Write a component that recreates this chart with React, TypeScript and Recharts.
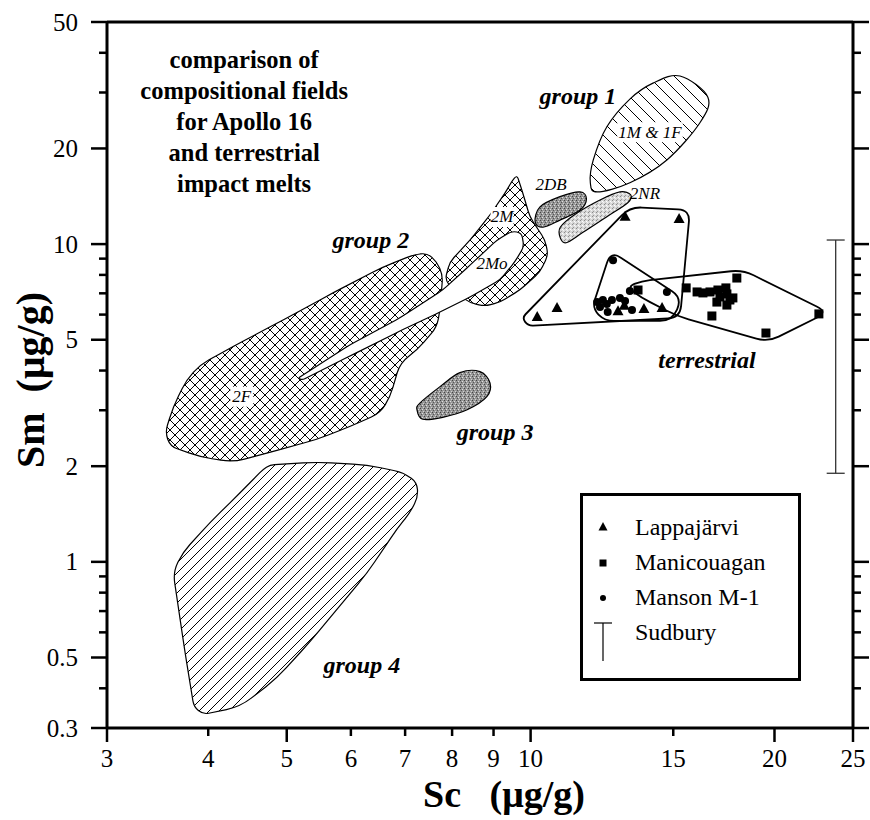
import React from "react";
import { ScatterChart, Scatter, XAxis, YAxis, ReferenceLine, ReferenceDot, Legend, Label } from "recharts";

const SERIF = '"Liberation Serif", "Times New Roman", Times, serif';

// axis ticks (log scales)
const X_TICKS = [3, 4, 5, 6, 7, 8, 9, 10, 15, 20, 25];
const X_LONG = [3, 5, 10, 20, 25];
const Y_TICKS = [0.3, 0.4, 0.5, 0.6, 0.7, 0.8, 0.9, 1, 2, 3, 4, 5, 6, 7, 8, 9, 10, 20, 30, 40, 50];
const Y_LABELS = [0.3, 0.5, 1, 2, 5, 10, 20, 50];

// Apollo 16 melt-group fields, [Sc, Sm] in µg/g
const GROUP_1 = [[15.29, 33.8], [16.55, 29.0], [16.18, 24.1], [14.73, 18.4], [13.26, 15.6], [12.08, 14.6], [11.85, 15.6], [11.95, 18.4], [12.42, 23.4], [13.26, 28.6], [14.16, 32.1]];
const FIELD_2DB = [[10.13, 11.74], [10.27, 13.1], [10.87, 14.1], [11.51, 14.6], [11.72, 13.9], [11.51, 12.8], [10.87, 11.9], [10.36, 11.3]];
const FIELD_2NR = [[10.88, 10.46], [10.88, 11.3], [11.34, 12.4], [12.18, 13.77], [12.89, 14.6], [13.29, 14.3], [13.18, 13.5], [12.42, 12.2], [11.58, 10.85], [11.06, 10.1]];
const FIELD_2F = [[7.45, 9.38], [7.66, 8.79], [7.79, 7.99], [7.73, 6.2], [7.66, 5.48], [7.24, 4.64], [6.9, 4.23], [6.71, 3.31], [6.52, 2.94], [5.99, 2.67], [5.45, 2.43], [4.73, 2.2], [4.29, 2.06], [3.91, 2.14], [3.59, 2.31], [3.54, 2.56], [3.62, 3.07], [3.76, 3.74], [3.91, 4.17], [4.29, 4.76], [4.95, 5.77], [5.7, 7.02], [6.57, 8.47], [7.16, 9.24]];
const FIELD_2M = [[9.62, 16.5], [9.78, 14.48], [9.98, 12.17], [10.42, 10.3], [10.51, 9.24], [10.27, 8.17], [9.7, 7.17], [9.17, 6.57], [8.78, 6.38], [8.42, 6.53], [8.07, 7.07], [7.84, 7.72], [7.95, 8.79], [8.42, 10.3], [8.91, 12.35], [9.3, 14.48], [9.48, 15.75]];
const FIELD_2MO = [[5.16, 3.78], [5.99, 4.83], [6.9, 5.86], [7.79, 7.17], [8.42, 8.59], [9.09, 10.3], [9.48, 10.99], [9.75, 10.84], [9.81, 9.8], [9.56, 8.79], [9.17, 7.72], [8.42, 6.82], [7.73, 6.11], [6.9, 5.33], [5.99, 4.45], [5.23, 3.74]];
const GROUP_3 = [[7.24, 3.01], [7.3, 3.16], [7.73, 3.56], [8.18, 3.94], [8.66, 3.97], [8.91, 3.66], [8.83, 3.31], [8.35, 3.01], [7.79, 2.85], [7.36, 2.81]];
const GROUP_4 = [[4.77, 2.02], [5.45, 2.06], [6.28, 2.02], [6.96, 1.91], [7.24, 1.78], [7.26, 1.6], [7.1, 1.43], [6.84, 1.27], [6.28, 0.92], [5.77, 0.71], [5.34, 0.56], [4.86, 0.43], [4.38, 0.35], [3.94, 0.331], [3.84, 0.35], [3.74, 0.53], [3.62, 0.93], [3.72, 1.07], [4.02, 1.33], [4.38, 1.65], [4.67, 1.95]];

// terrestrial impact-melt envelopes
const LAPPA_FIELD = [[9.76, 5.86], [13.26, 13.09], [15.73, 12.81], [15.29, 5.86], [9.93, 5.53]];
const MANSON_FIELD = [[12.56, 9.51], [11.91, 6.29], [12.35, 5.73], [14.95, 5.73], [15.38, 6.77]];
const MANIC_FIELD = [[13.15, 7.33], [13.72, 7.66], [18.28, 8.29], [23.28, 6.11], [19.63, 4.92], [15.16, 5.94], [13.72, 6.77]];

// analyses
const LAPPAJARVI = [[13.08, 12.2], [15.25, 12.0], [10.19, 5.9], [10.78, 6.29], [12.82, 6.15], [13.05, 6.4], [13.8, 6.25], [14.53, 6.29]];
const MANICOUAGAN = [[13.57, 7.17], [15.56, 7.28], [16.05, 7.07], [16.32, 7.02], [16.65, 7.07], [17.03, 7.17], [17.42, 7.28], [17.47, 6.97], [17.13, 6.82], [16.98, 6.57], [17.47, 6.43], [17.77, 6.77], [17.97, 7.82], [16.74, 5.94], [19.52, 5.25], [22.69, 6.03], [17.62, 6.67]];
const MANSON = [[12.64, 8.9], [14.73, 7.07], [12.08, 6.57], [12.28, 6.67], [12.42, 6.48], [12.18, 6.34], [12.6, 6.67], [12.89, 6.77], [13.08, 6.62], [13.26, 7.12], [13.34, 6.2], [12.45, 6.11]];
const SUDBURY = [[23.8, 1.9], [23.8, 10.3]];

const TITLE_LINES = ["comparison of", "compositional fields", "for Apollo 16", "and terrestrial", "impact melts"];
const GROUP_NAMES = [
  { text: "group 1", x: 11.44, y: 29.3 },
  { text: "group 2", x: 6.35, y: 10.3 },
  { text: "group 3", x: 9.04, y: 2.56 },
  { text: "group 4", x: 6.19, y: 0.474 },
  { text: "terrestrial", x: 16.51, y: 4.32 },
];
const FIELD_NAMES = [
  { text: "1M & 1F", x: 14.04, y: 22.5, bg: true },
  { text: "2DB", x: 10.6, y: 15.35, bg: false },
  { text: "2NR", x: 13.84, y: 14.48, bg: false },
  { text: "2M", x: 9.22, y: 12.17, bg: true },
  { text: "2Mo", x: 8.96, y: 8.71, bg: false },
  { text: "2F", x: 4.4, y: 3.31, bg: true },
];
const LEGEND_ITEMS = ["Lappajärvi", "Manicouagan", "Manson M-1", "Sudbury"];

const toXY = (arr: number[][]) => arr.map(([x, y]) => ({ x, y }));

type Pt = { x: number; y: number };

// closed Catmull-Rom curve through the vertices
function splinePath(pts: Pt[]) {
  const n = pts.length;
  if (n < 3) return "";
  let d = `M${pts[0].x},${pts[0].y}`;
  for (let i = 0; i < n; i++) {
    const p0 = pts[(i - 1 + n) % n];
    const p1 = pts[i];
    const p2 = pts[(i + 1) % n];
    const p3 = pts[(i + 2) % n];
    const c1x = p1.x + (p2.x - p0.x) / 6;
    const c1y = p1.y + (p2.y - p0.y) / 6;
    const c2x = p2.x - (p3.x - p1.x) / 6;
    const c2y = p2.y - (p3.y - p1.y) / 6;
    d += `C${c1x},${c1y} ${c2x},${c2y} ${p2.x},${p2.y}`;
  }
  return d + "Z";
}

// polygon with rounded corners of radius r
function roundedPath(pts: Pt[], r: number) {
  const n = pts.length;
  if (n < 3) return "";
  let d = "";
  for (let i = 0; i < n; i++) {
    const p0 = pts[(i - 1 + n) % n];
    const p1 = pts[i];
    const p2 = pts[(i + 1) % n];
    const l1 = Math.hypot(p0.x - p1.x, p0.y - p1.y) || 1;
    const l2 = Math.hypot(p2.x - p1.x, p2.y - p1.y) || 1;
    const rr = Math.min(r, l1 / 2, l2 / 2);
    const ax = p1.x + ((p0.x - p1.x) / l1) * rr;
    const ay = p1.y + ((p0.y - p1.y) / l1) * rr;
    const bx = p1.x + ((p2.x - p1.x) / l2) * rr;
    const by = p1.y + ((p2.y - p1.y) / l2) * rr;
    d += `${i === 0 ? "M" : "L"}${ax},${ay}Q${p1.x},${p1.y} ${bx},${by}`;
  }
  return d + "Z";
}

const field = (fill: string, r: number | "spline", strokeWidth = 1.2) => (props: any) => {
  const pts: Pt[] = (props.points || []).filter((p: any) => p.x != null && p.y != null);
  const d = r === "spline" ? splinePath(pts) : roundedPath(pts, r);
  return <path d={d} fill={fill} stroke="#000" strokeWidth={strokeWidth} strokeLinejoin="round" />;
};

const hidden = () => <g />;

const triangle = (p: any) => (
  <path d={`M${p.cx},${p.cy - 6}L${p.cx + 5.5},${p.cy + 4}L${p.cx - 5.5},${p.cy + 4}Z`} fill="#000" />
);
const square = (p: any) => <rect x={p.cx - 4.5} y={p.cy - 4.5} width={9} height={9} fill="#000" />;
const dot = (p: any) => <circle cx={p.cx} cy={p.cy} r={4} fill="#000" />;
const cap = (p: any) => <line x1={p.cx - 9} x2={p.cx + 9} y1={p.cy} y2={p.cy} stroke="#333" strokeWidth={1.3} />;

const LeftTick = (p: any) => {
  const v = p.payload.value;
  const major = Y_LABELS.includes(v);
  const len = major ? 16 : 8;
  return (
    <g>
      <line x1={p.x} x2={p.x - len} y1={p.y} y2={p.y} stroke="#000" strokeWidth={2.5} />
      {major && (
        <text x={p.x - len - 13} y={p.y} textAnchor="end" dominantBaseline="central" fontFamily={SERIF} fontSize={25} fill="#000">
          {v}
        </text>
      )}
    </g>
  );
};

const RightTick = (p: any) => {
  const len = Y_LABELS.includes(p.payload.value) ? 16 : 8;
  return <line x1={p.x} x2={p.x + len} y1={p.y} y2={p.y} stroke="#000" strokeWidth={2.5} />;
};

const BottomTick = (p: any) => {
  const v = p.payload.value;
  const len = X_LONG.includes(v) ? 14 : 8;
  return (
    <g>
      <line x1={p.x} x2={p.x} y1={p.y} y2={p.y + len} stroke="#000" strokeWidth={2.5} />
      <text x={p.x} y={p.y + 30} textAnchor="middle" dominantBaseline="central" fontFamily={SERIF} fontSize={25} fill="#000">
        {v}
      </text>
    </g>
  );
};

const XTitle = (props: any) => {
  const vb = props.viewBox;
  return (
    <text x={vb.x + vb.width / 2 + 24} y={vb.y + 66} textAnchor="middle" dominantBaseline="central" fontFamily={SERIF} fontSize={38} fontWeight="bold" fill="#000">
      Sc{"\u00a0\u00a0\u00a0"}(μg/g)
    </text>
  );
};

const YTitle = (props: any) => {
  const vb = props.viewBox;
  const cx = vb.x + 30;
  const cy = vb.y + vb.height / 2 + 5;
  return (
    <text x={cx} y={cy} transform={`rotate(-90, ${cx}, ${cy})`} textAnchor="middle" dominantBaseline="central" fontFamily={SERIF} fontSize={40} fontWeight="bold" fill="#000">
      Sm{"\u00a0\u00a0"}(μg/g)
    </text>
  );
};

const groupText = (text: string) => (p: any) => (
  <text x={p.cx} y={p.cy} textAnchor="middle" dominantBaseline="central" fontFamily={SERIF} fontSize={24} fontWeight="bold" fontStyle="italic" fill="#000">
    {text}
  </text>
);

const fieldText = (text: string, bg: boolean) => (p: any) => {
  const w = text.length * 8.5 + 6;
  return (
    <g>
      {bg && <rect x={p.cx - w / 2} y={p.cy - 10} width={w} height={20} fill="#fff" />}
      <text x={p.cx} y={p.cy} textAnchor="middle" dominantBaseline="central" fontFamily={SERIF} fontSize={17} fontStyle="italic" fill="#000">
        {text}
      </text>
    </g>
  );
};

const titleText = (p: any) => (
  <text x={p.cx} y={p.cy} textAnchor="middle" fontFamily={SERIF} fontSize={24.5} fontWeight="bold" fill="#000">
    {TITLE_LINES.map((line, i) => (
      <tspan key={line} x={p.cx} dy={i === 0 ? 8 : 31}>
        {line}
      </tspan>
    ))}
  </text>
);

const LegendSymbol = ({ i }: { i: number }) => (
  <svg width={20} height={20} style={{ overflow: "visible", flex: "none" }}>
    {i === 0 && <path d="M10,4L14.5,12.5L5.5,12.5Z" fill="#000" />}
    {i === 1 && <rect x={6.5} y={6.5} width={7} height={7} fill="#000" />}
    {i === 2 && <circle cx={10} cy={10} r={3} fill="#000" />}
    {i === 3 && (
      <g stroke="#000" strokeWidth={1.2}>
        <line x1={1} x2={19} y1={0} y2={0} />
        <line x1={10} x2={10} y1={0} y2={38} />
      </g>
    )}
  </svg>
);

const LegendBox = () => (
  <div
    style={{
      width: "100%",
      height: "100%",
      boxSizing: "border-box",
      border: "3px solid #000",
      background: "#fff",
      paddingTop: 14,
      fontFamily: SERIF,
      fontSize: 24,
      color: "#000",
    }}
  >
    {LEGEND_ITEMS.map((name, i) => (
      <div key={name} style={{ height: 35, display: "flex", alignItems: "center" }}>
        <div style={{ width: 10 }} />
        <LegendSymbol i={i} />
        <div style={{ width: 22 }} />
        <span>{name}</span>
      </div>
    ))}
  </div>
);

export default function App() {
  return (
    <div style={{ position: "absolute", left: 0, top: 0, width: 870, height: 820, background: "#fff" }}>
      <svg width={0} height={0} style={{ position: "absolute" }}>
        <defs>
          <pattern id="hatchBack" patternUnits="userSpaceOnUse" width={13} height={13}>
            <path d="M0,0L13,13M-2,11L2,15M11,-2L15,2" stroke="#000" strokeWidth={1} />
          </pattern>
          <pattern id="hatchFwd" patternUnits="userSpaceOnUse" width={10} height={10}>
            <path d="M0,10L10,0M-2,2L2,-2M8,12L12,8" stroke="#000" strokeWidth={1} />
          </pattern>
          <pattern id="cross" patternUnits="userSpaceOnUse" width={10} height={10}>
            <path d="M0,0L10,10M10,0L0,10" stroke="#000" strokeWidth={1} />
          </pattern>
          <pattern id="stippleDark" patternUnits="userSpaceOnUse" width={4} height={4}>
            <rect width={4} height={4} fill="#969696" />
            <rect x={0} y={0} width={1} height={1} fill="#444" />
            <rect x={2} y={1} width={1} height={1} fill="#e0e0e0" />
            <rect x={1} y={2} width={1} height={1} fill="#555" />
            <rect x={3} y={3} width={1} height={1} fill="#d0d0d0" />
          </pattern>
          <pattern id="stippleLight" patternUnits="userSpaceOnUse" width={4} height={4}>
            <rect width={4} height={4} fill="#d8d8d8" />
            <rect x={0} y={0} width={1} height={1} fill="#8a8a8a" />
            <rect x={2} y={1} width={1} height={1} fill="#fff" />
            <rect x={1} y={3} width={1} height={1} fill="#999" />
            <rect x={3} y={2} width={1} height={1} fill="#f4f4f4" />
          </pattern>
        </defs>
      </svg>
      <ScatterChart width={870} height={820} margin={{ top: 22, right: 0, bottom: 0, left: 0 }}>
        <XAxis
          type="number"
          dataKey="x"
          scale="log"
          domain={[3, 25]}
          allowDataOverflow
          ticks={X_TICKS}
          interval={0}
          height={92}
          tickSize={0}
          tickMargin={0}
          tickLine={false}
          axisLine={{ stroke: "#000", strokeWidth: 3 }}
          tick={BottomTick}
          label={<Label content={XTitle} />}
        />
        <YAxis
          type="number"
          dataKey="y"
          scale="log"
          domain={[0.3, 50]}
          allowDataOverflow
          ticks={Y_TICKS}
          interval={0}
          width={107}
          tickSize={0}
          tickMargin={0}
          tickLine={false}
          axisLine={{ stroke: "#000", strokeWidth: 3 }}
          tick={LeftTick}
          label={<Label content={YTitle} />}
        />
        <YAxis
          yAxisId="r"
          orientation="right"
          type="number"
          dataKey="y"
          scale="log"
          domain={[0.3, 50]}
          allowDataOverflow
          ticks={Y_TICKS}
          interval={0}
          width={17}
          tickSize={0}
          tickMargin={0}
          tickLine={false}
          axisLine={{ stroke: "#000", strokeWidth: 3 }}
          tick={RightTick}
        />
        <ReferenceLine y={50} stroke="#000" strokeWidth={3} />

        <Scatter data={toXY(GROUP_4)} line={field("url(#hatchFwd)", 14)} shape={hidden} legendType="none" isAnimationActive={false} />
        <Scatter data={toXY(FIELD_2F)} line={field("url(#cross)", 12)} shape={hidden} legendType="none" isAnimationActive={false} />
        <Scatter data={toXY(FIELD_2M)} line={field("url(#cross)", 6)} shape={hidden} legendType="none" isAnimationActive={false} />
        <Scatter data={toXY(FIELD_2MO)} line={field("#fff", 5)} shape={hidden} legendType="none" isAnimationActive={false} />
        <Scatter data={toXY(GROUP_3)} line={field("url(#stippleDark)", "spline")} shape={hidden} legendType="none" isAnimationActive={false} />
        <Scatter data={toXY(FIELD_2DB)} line={field("url(#stippleDark)", "spline")} shape={hidden} legendType="none" isAnimationActive={false} />
        <Scatter data={toXY(FIELD_2NR)} line={field("url(#stippleLight)", "spline")} shape={hidden} legendType="none" isAnimationActive={false} />
        <Scatter data={toXY(GROUP_1)} line={field("url(#hatchBack)", "spline")} shape={hidden} legendType="none" isAnimationActive={false} />

        <Scatter data={toXY(LAPPA_FIELD)} line={field("none", 12, 1.8)} shape={hidden} legendType="none" isAnimationActive={false} />
        <Scatter data={toXY(MANSON_FIELD)} line={field("none", 12, 1.8)} shape={hidden} legendType="none" isAnimationActive={false} />
        <Scatter data={toXY(MANIC_FIELD)} line={field("none", 12, 1.8)} shape={hidden} legendType="none" isAnimationActive={false} />

        <Scatter
          yAxisId="r"
          name="Sudbury"
          data={toXY(SUDBURY)}
          line={{ stroke: "#333", strokeWidth: 1.3 }}
          shape={cap}
          isAnimationActive={false}
        />
        <Scatter name="Lappajärvi" data={toXY(LAPPAJARVI)} shape={triangle} isAnimationActive={false} />
        <Scatter name="Manicouagan" data={toXY(MANICOUAGAN)} shape={square} isAnimationActive={false} />
        <Scatter name="Manson M-1" data={toXY(MANSON)} shape={dot} isAnimationActive={false} />

        <ReferenceDot x={4.43} y={37.9} r={0} shape={titleText} />
        {GROUP_NAMES.map((g) => (
          <ReferenceDot key={g.text} x={g.x} y={g.y} r={0} shape={groupText(g.text)} />
        ))}
        {FIELD_NAMES.map((f) => (
          <ReferenceDot key={f.text} x={f.x} y={f.y} r={0} shape={fieldText(f.text, f.bg)} />
        ))}

        <Legend
          layout="vertical"
          align="center"
          verticalAlign="middle"
          wrapperStyle={{ left: 580, top: 493, width: 221, height: 188 }}
          content={LegendBox}
        />
      </ScatterChart>
    </div>
  );
}
